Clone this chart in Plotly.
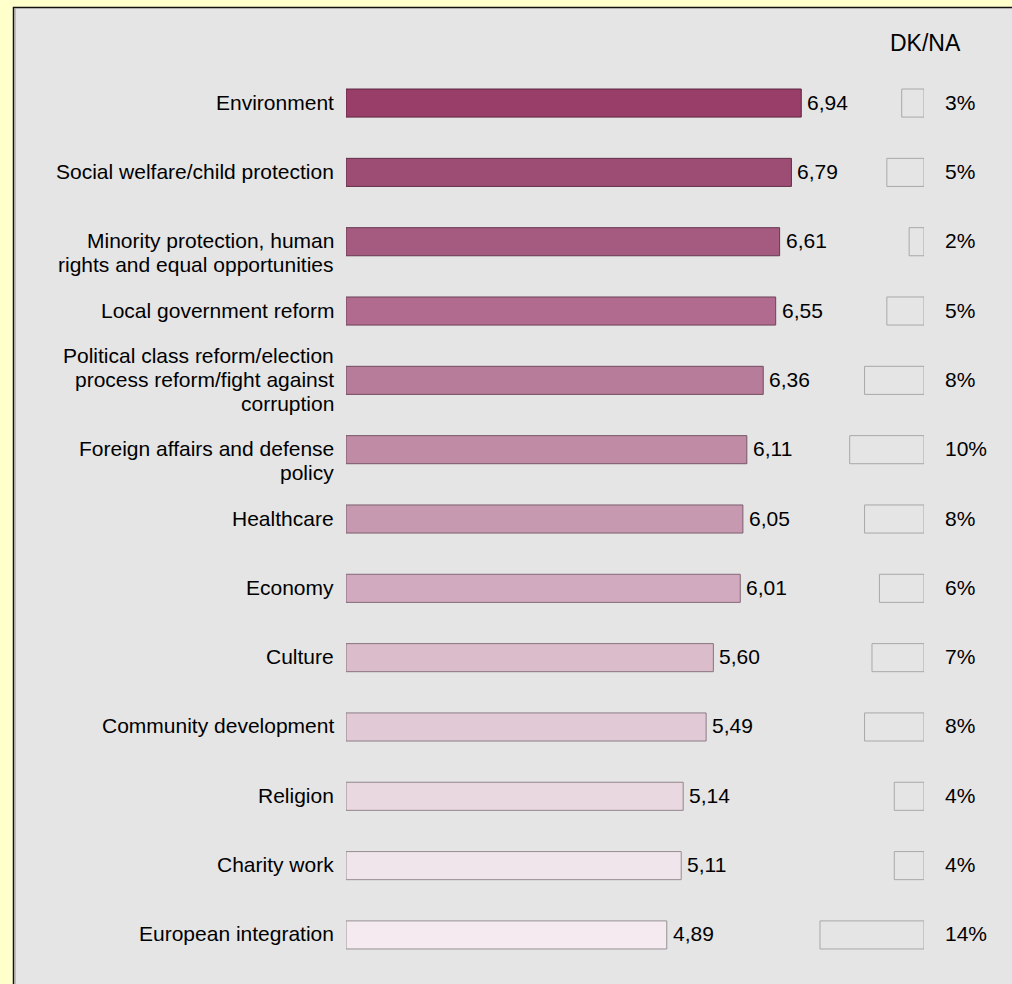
import plotly.graph_objects as go

# ---- data -------------------------------------------------------------
categories = [
    "Environment",
    "Social welfare/child protection",
    "Minority protection, human\nrights and equal opportunities",
    "Local government reform",
    "Political class reform/election\nprocess reform/fight against\ncorruption",
    "Foreign affairs and defense\npolicy",
    "Healthcare",
    "Economy",
    "Culture",
    "Community development",
    "Religion",
    "Charity work",
    "European integration",
]
scores = [6.94, 6.79, 6.61, 6.55, 6.36, 6.11, 6.05, 6.01, 5.60, 5.49, 5.14, 5.11, 4.89]
dk_na = [3, 5, 2, 5, 8, 10, 8, 6, 7, 8, 4, 4, 14]

# ---- styling ----------------------------------------------------------
W, H = 1012, 984
FONT = "Arial, Liberation Sans, Helvetica, sans-serif"
FS = 21
LINE_H = 24
fills = ["#983E68", "#9D4C74", "#A55B80", "#B06B8E", "#B77C9A", "#C08BA5", "#C799B0",
         "#D2AABF", "#DABCCB", "#E2C9D6", "#E9D8E0", "#F1E5EC", "#F4EAEF"]


def darker(hex_color, f=0.62):
    r, g, b = (int(hex_color[i:i + 2], 16) for i in (1, 3, 5))
    return "#%02X%02X%02X" % (int(r * f), int(g * f), int(b * f))


borders = [darker(c) for c in fills]

# pixel geometry of the plotting area
BAR_X0 = 346          # where score 0 sits
PX_PER_UNIT = 65.6
DK_X1 = 924           # right edge of DK/NA boxes
PX_PER_PCT = 7.43
ROW_TOP, ROW_BOTTOM = 68.4, 969.6
TEXT_LIFT = 1         # small upward nudge for all row texts

fig = go.Figure()

fig.add_trace(go.Bar(
    y=categories, x=scores, orientation="h",
    xaxis="x", yaxis="y",
    width=0.405,
    marker=dict(color=fills, line=dict(color=borders, width=1)),
    hoverinfo="skip", showlegend=False,
))

fig.add_trace(go.Bar(
    y=categories, x=dk_na, orientation="h",
    xaxis="x2", yaxis="y",
    width=0.405,
    marker=dict(color="rgba(0,0,0,0)", line=dict(color="#A8A8A8", width=1)),
    hoverinfo="skip", showlegend=False,
))

txt = dict(family=FONT, size=FS, color="#000000")
annotations = []
# category labels, right aligned against the bars; the first line of a
# two-line label sits on the bar, three-line labels are centred on it
for cat in categories:
    lines = cat.split("\n")
    n = len(lines)
    first = -((n - 1) // 2)
    for k, line in enumerate(lines):
        annotations.append(dict(
            x=(BAR_X0 - 10) / W, xref="paper", xanchor="right",
            y=cat, yref="y", yanchor="middle",
            yshift=TEXT_LIFT - (first + k) * LINE_H,
            text=line, showarrow=False, align="right", font=txt,
        ))
# score values at the end of each bar
for cat, v in zip(categories, scores):
    annotations.append(dict(
        x=v, xref="x", xanchor="left", xshift=4,
        y=cat, yref="y", yanchor="middle", yshift=TEXT_LIFT,
        text=f"{v:.2f}".replace(".", ","), showarrow=False, font=txt,
    ))
# DK/NA percentages
for cat, v in zip(categories, dk_na):
    annotations.append(dict(
        x=943 / W, xref="paper", xanchor="left",
        y=cat, yref="y", yanchor="middle", yshift=TEXT_LIFT,
        text=f"{v}%", showarrow=False, font=txt,
    ))
annotations.append(dict(
    x=925 / W, xref="paper", xanchor="center",
    y=1 - 43 / H, yref="paper", yanchor="middle",
    text="DK/NA", showarrow=False, font=dict(family=FONT, size=23, color="#000000"),
))

shapes = [
    # grey panel with dark frame on top/left
    dict(type="rect", xref="paper", yref="paper", layer="below",
         x0=13.5 / W, x1=1.2, y0=-0.2, y1=1 - 7.5 / H,
         fillcolor="#E5E5E5", line=dict(color="#111111", width=1.5)),
    dict(type="line", xref="paper", yref="paper", layer="below",
         x0=15 / W, x1=15 / W, y0=-0.2, y1=1 - 8.5 / H,
         line=dict(color="#A0A0A0", width=1.2)),
]

fig.update_layout(
    width=W, height=H,
    margin=dict(l=0, r=0, t=0, b=0),
    paper_bgcolor="#FFFFCC", plot_bgcolor="rgba(0,0,0,0)",
    font=dict(family=FONT, size=FS, color="#000000"),
    barmode="overlay",
    xaxis=dict(domain=[BAR_X0 / W, 1], range=[0, (W - BAR_X0) / PX_PER_UNIT],
               visible=False, fixedrange=True),
    xaxis2=dict(domain=[0, DK_X1 / W], range=[DK_X1 / PX_PER_PCT, 0],
                anchor="y", visible=False, fixedrange=True),
    yaxis=dict(domain=[1 - ROW_BOTTOM / H, 1 - ROW_TOP / H],
               categoryorder="array", categoryarray=categories,
               range=[len(categories) - 0.5, -0.5],
               showticklabels=False, showgrid=False, zeroline=False,
               fixedrange=True),
    annotations=annotations,
    shapes=shapes,
)

fig.write_html("out.html")
